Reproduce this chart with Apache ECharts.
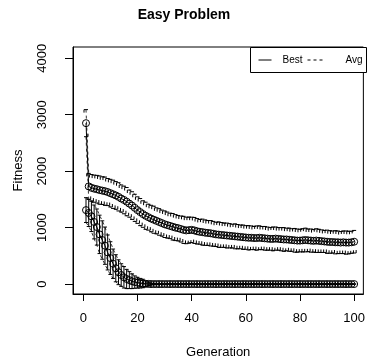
<!DOCTYPE html>
<html>
<head>
<meta charset="utf-8">
<script src="https://cdn.jsdelivr.net/npm/echarts@6/dist/echarts.min.js"></script>
<style>
html,body{margin:0;padding:0;background:#fff;}
#chart{width:368px;height:364px;}
</style>
</head>
<body>
<div id="chart"></div>
<script>
// ---- Data ----
const generations = Array.from({length: 100}, (_, i) => i + 1);

const avgMean = [
 2850,1730,1705,1690,1680,1665,1655,1645,1630,1610,
 1590,1570,1545,1515,1490,1460,1425,1390,1350,1310,
 1275,1240,1210,1185,1160,1140,1120,1100,1080,1060,
 1045,1030,1015,1000,990,975,960,950,955,960,
 950,935,925,920,910,905,900,890,880,875,
 870,865,860,855,850,845,840,835,830,825,
 820,820,815,815,820,815,810,805,800,800,
 805,800,795,790,790,785,780,775,770,770,
 775,780,775,770,765,770,765,760,755,750,
 745,745,740,740,735,740,735,735,740,750
];
const avgSd = [
 240,230,235,240,245,250,245,250,240,245,
 250,245,250,240,245,250,240,245,240,235,
 240,235,240,230,235,240,230,235,230,235,
 230,225,235,230,225,230,240,235,230,225,
 230,225,220,230,225,220,225,220,215,225,
 220,215,220,215,210,220,215,210,215,210,
 215,210,205,215,210,205,210,205,200,210,
 205,200,205,210,200,205,200,210,205,200,
 205,210,200,205,200,210,205,200,195,205,
 200,195,205,200,195,200,205,200,195,200
];
const bestMean = [
 1310,1260,1200,1100,1010,880,780,680,560,460,
 360,280,210,160,120,90,70,50,35,25,
 15,10,5,3,0,0,0,0,0,0,
 0,0,0,0,0,0,0,0,0,0,
 0,0,0,0,0,0,0,0,0,0,
 0,0,0,0,0,0,0,0,0,0,
 0,0,0,0,0,0,0,0,0,0,
 0,0,0,0,0,0,0,0,0,0,
 0,0,0,0,0,0,0,0,0,0,
 0,0,0,0,0,0,0,0,0,0
];
const bestSd = [
 220,240,270,300,320,340,340,330,310,290,
 260,240,220,200,190,170,150,130,110,95,
 85,75,50,30,15,5,0,0,0,0,
 0,0,0,0,0,0,0,0,0,0,
 0,0,0,0,0,0,0,0,0,0,
 0,0,0,0,0,0,0,0,0,0,
 0,0,0,0,0,0,0,0,0,0,
 0,0,0,0,0,0,0,0,0,0,
 0,0,0,0,0,0,0,0,0,0,
 0,0,0,0,0,0,0,0,0,0
];
const xTicks = [0, 20, 40, 60, 80, 100];
const yTicks = [0, 1000, 2000, 3000, 4000];
const legendNames = ['Best', 'Avg'];
const titleText = 'Easy Problem';
const xName = 'Generation';
const yName = 'Fitness';

// ---- Build series data ----
const pairs = (m) => generations.map((g, i) => [g, m[i]]);
const band = (m, s, sign) => generations.map((g, i) => [g, m[i] + sign * s[i]]);
const errData = (m, s) => generations.map((g, i) => [g, m[i] - s[i], m[i] + s[i]]);

function errRender(fullBar) {
  return function (params, api) {
    const x = api.value(0), lo = api.value(1), hi = api.value(2);
    const pH = api.coord([x, hi]);
    const pL = api.coord([x, lo]);
    const w = 2;
    const st = {stroke: '#000', lineWidth: 1};
    const kids = [
      {type: 'line', shape: {x1: pH[0] - w, y1: pH[1], x2: pH[0] + w, y2: pH[1]}, style: st},
      {type: 'line', shape: {x1: pL[0] - w, y1: pL[1], x2: pL[0] + w, y2: pL[1]}, style: st}
    ];
    if (hi > lo) {
      if (fullBar) {
        kids.push({type: 'line', shape: {x1: pH[0], y1: pH[1], x2: pL[0], y2: pL[1]}, style: st});
      } else {
        kids.push({type: 'line', shape: {x1: pH[0] - w, y1: pH[1], x2: pH[0] - w, y2: pH[1] + 3}, style: st});
        kids.push({type: 'line', shape: {x1: pL[0] + w, y1: pL[1], x2: pL[0] + w, y2: pL[1] - 3}, style: st});
      }
    }
    return {type: 'group', children: kids};
  };
}

const FONT = 'Liberation Sans, Arial, Helvetica, sans-serif';
const chart = echarts.init(document.getElementById('chart'), null, {renderer: 'canvas'});

const dashed = {color: '#333', width: 1, type: [3, 3]};
const lineSeries = (name, m) => ({
  name: name, type: 'line', data: pairs(m), clip: true,
  symbol: 'circle', symbolSize: 7, showAllSymbol: true,
  itemStyle: {color: 'rgba(0,0,0,0)', borderColor: '#000', borderWidth: 1},
  lineStyle: {color: '#000', width: 1},
  emphasis: {disabled: true}, z: 5, animation: false
});
const bandSeries = (m, s, sign) => ({
  type: 'line', data: band(m, s, sign), clip: true, symbol: 'none',
  lineStyle: dashed, z: 3, animation: false, silent: true
});

chart.setOption({
  animation: false,
  backgroundColor: '#fff',
  title: {
    text: titleText, left: 'center', top: 3,
    textStyle: {fontFamily: FONT, fontSize: 14, fontWeight: 'bold', color: '#000'}
  },
  grid: {left: 73, right: 2, top: 47, bottom: 69, show: true, borderColor: '#000', borderWidth: 1, backgroundColor: 'transparent'},
  xAxis: {
    type: 'value', min: -3.8, max: 103.4,
    name: xName, nameLocation: 'middle', nameGap: 52,
    nameTextStyle: {fontFamily: FONT, fontSize: 13, color: '#000'},
    axisLine: {show: true, onZero: false, lineStyle: {color: '#000', width: 1}},
    axisTick: {show: true, length: 7, customValues: xTicks, lineStyle: {color: '#000'}},
    axisLabel: {customValues: xTicks, margin: 18, fontFamily: FONT, fontSize: 13, color: '#000', formatter: (v) => String(v)},
    splitLine: {show: false}
  },
  yAxis: {
    type: 'value', min: -176, max: 4199,
    name: yName, nameLocation: 'middle', nameGap: 48, nameRotate: 90,
    nameTextStyle: {fontFamily: FONT, fontSize: 13, color: '#000'},
    axisLine: {show: true, onZero: false, lineStyle: {color: '#000', width: 1}},
    axisTick: {show: true, length: 8, customValues: yTicks, lineStyle: {color: '#000'}},
    axisLabel: {customValues: yTicks, rotate: 90, margin: 24, fontFamily: FONT, fontSize: 13, color: '#000', formatter: (v) => String(v)},
    splitLine: {show: false}
  },
  graphic: [{
    type: 'group', left: 250, top: 47,
    children: [
      {type: 'rect', shape: {x: 0, y: 0, width: 116, height: 25}, style: {fill: '#fff', stroke: '#000', lineWidth: 1}},
      {type: 'line', shape: {x1: 8, y1: 12.5, x2: 21, y2: 12.5}, style: {stroke: '#000', lineWidth: 1}},
      {type: 'text', x: 32, y: 12.5, style: {text: legendNames[0], fontFamily: FONT, fontSize: 10, fill: '#000', verticalAlign: 'middle'}},
      {type: 'line', shape: {x1: 57, y1: 12.5, x2: 73, y2: 12.5}, style: {stroke: '#000', lineWidth: 1, lineDash: [3, 3]}},
      {type: 'text', x: 95, y: 12.5, style: {text: legendNames[1], fontFamily: FONT, fontSize: 10, fill: '#000', verticalAlign: 'middle'}}
    ]
  }],
  series: [
    bandSeries(avgMean, avgSd, 1),
    bandSeries(avgMean, avgSd, -1),
    bandSeries(bestMean, bestSd, 1),
    bandSeries(bestMean, bestSd, -1),
    {type: 'custom', data: errData(avgMean, avgSd), renderItem: errRender(false), clip: true, z: 4, silent: true, animation: false},
    {type: 'custom', data: errData(bestMean, bestSd), renderItem: errRender(true), clip: true, z: 4, silent: true, animation: false},
    lineSeries(legendNames[1], avgMean),
    lineSeries(legendNames[0], bestMean)
  ]
});
</script>
</body>
</html>
